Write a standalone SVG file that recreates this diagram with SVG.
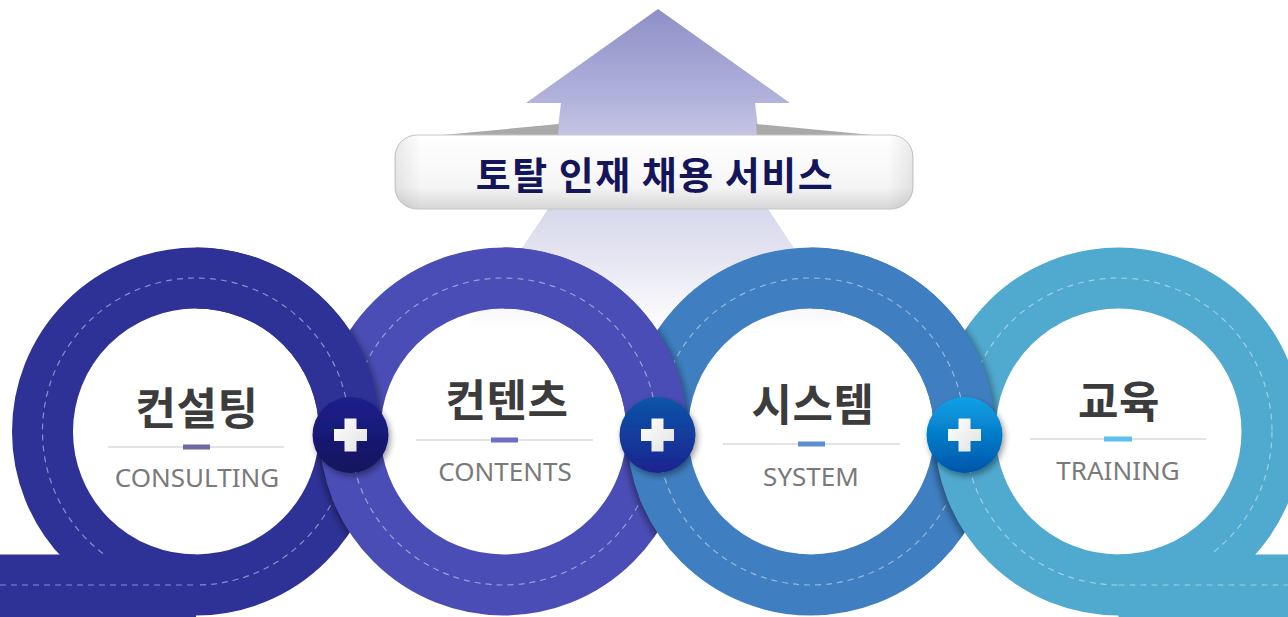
<svg xmlns="http://www.w3.org/2000/svg" width="1288" height="617" viewBox="0 0 1288 617">
<style>
.ring{fill:none;stroke-width:61}
.dash{fill:none;stroke:#ffffff;stroke-opacity:.45;stroke-width:1.2;stroke-dasharray:6 5}
.shd{fill:none;stroke:#000;stroke-width:61;stroke-opacity:.35}
.ko{font-family:"Noto Sans CJK KR","Noto Sans CJK SC",sans-serif;font-weight:700;font-size:44px;letter-spacing:0.5px;fill:#3c3c3c;text-anchor:middle}
.en{font-family:"Noto Sans","Open Sans",sans-serif;font-size:26px;fill:#7a7a7a;text-anchor:middle}
.div{stroke:#dadada;stroke-width:1.5}
.plus{fill:url(#pw)}
</style>
<defs>
<linearGradient id="ag" x1="0" y1="9" x2="0" y2="330" gradientUnits="userSpaceOnUse">
<stop offset="0" stop-color="#8e8fc7"/>
<stop offset="0.29" stop-color="#b3b4dc"/>
<stop offset="0.39" stop-color="#c3c4e3"/>
<stop offset="0.62" stop-color="#d6d7eb"/>
<stop offset="0.78" stop-color="#e6e6f2"/>
<stop offset="1" stop-color="#ffffff"/>
</linearGradient>
<linearGradient id="bg" x1="0" y1="0" x2="0" y2="1">
<stop offset="0" stop-color="#ffffff"/>
<stop offset="0.7" stop-color="#f5f5f5"/>
<stop offset="1" stop-color="#d6d6d6"/>
</linearGradient>
<linearGradient id="bgx" x1="0" y1="0" x2="1" y2="0">
<stop offset="0" stop-color="#000" stop-opacity=".08"/>
<stop offset="0.05" stop-color="#000" stop-opacity="0"/>
<stop offset="0.95" stop-color="#000" stop-opacity="0"/>
<stop offset="1" stop-color="#000" stop-opacity=".08"/>
</linearGradient>
<linearGradient id="b1" x1="0" y1="0" x2="0" y2="1">
<stop offset="0" stop-color="#1d208e"/>
<stop offset="1" stop-color="#12135c"/>
</linearGradient>
<linearGradient id="b2" x1="0" y1="0" x2="0" y2="1">
<stop offset="0" stop-color="#0b55a8"/>
<stop offset="1" stop-color="#1c2390"/>
</linearGradient>
<linearGradient id="b3" x1="0" y1="0" x2="0" y2="1">
<stop offset="0" stop-color="#0aa2e6"/>
<stop offset="1" stop-color="#0155aa"/>
</linearGradient>
<linearGradient id="pw" x1="0" y1="0" x2="1" y2="1">
<stop offset="0" stop-color="#ffffff"/>
<stop offset="1" stop-color="#e2e2e2"/>
</linearGradient>
<filter id="blur" x="-20%" y="-20%" width="140%" height="140%"><feGaussianBlur stdDeviation="3"/></filter>
<filter id="bs" x="-30%" y="-30%" width="160%" height="160%"><feDropShadow dx="2" dy="3" stdDeviation="3" flood-color="#000" flood-opacity=".4"/></filter>
<clipPath id="a1"><path clip-rule="evenodd" d="M12,431.5a184,184 0 1,0 368,0a184,184 0 1,0 -368,0ZM73,431.5a123,123 0 1,0 246,0a123,123 0 1,0 -246,0Z"/></clipPath>
<clipPath id="a2"><path clip-rule="evenodd" d="M319.5,431.5a184,184 0 1,0 368,0a184,184 0 1,0 -368,0ZM380.5,431.5a123,123 0 1,0 246,0a123,123 0 1,0 -246,0Z"/></clipPath>
<clipPath id="a3"><path clip-rule="evenodd" d="M627,431.5a184,184 0 1,0 368,0a184,184 0 1,0 -368,0ZM688,431.5a123,123 0 1,0 246,0a123,123 0 1,0 -246,0Z"/></clipPath>
<clipPath id="a4"><path clip-rule="evenodd" d="M934.5,431.5a184,184 0 1,0 368,0a184,184 0 1,0 -368,0ZM995.5,431.5a123,123 0 1,0 246,0a123,123 0 1,0 -246,0Z"/></clipPath>
<clipPath id="t1"><rect x="196" y="0" width="200" height="431.5"/></clipPath>
<clipPath id="t2"><rect x="503.5" y="0" width="200" height="431.5"/></clipPath>
<clipPath id="t3"><rect x="811" y="0" width="200" height="431.5"/></clipPath>
</defs>
<rect width="1288" height="617" fill="#ffffff"/>

<g id="arrow">
<path d="M658,9 L790,103 L755,103 L768,209 Q795,250 850,330 L466,330 Q521,250 548,209 L561,103 L526,103 Z" fill="url(#ag)"/>
<polygon points="443,135 559,124 558,135" fill="#a9a9a9"/>
<polygon points="756,124 872,135 757,135" fill="#a9a9a9"/>
</g>

<g id="node-consulting">
<circle cx="196" cy="431.5" r="153.5" class="ring" stroke="#2e3296"/>
<circle cx="196" cy="431.5" r="153.5" class="dash"/>
</g>
<g clip-path="url(#a1)"><circle cx="500.5" cy="433.5" r="153.5" class="shd" filter="url(#blur)"/></g>
<g id="node-contents">
<circle cx="503.5" cy="431.5" r="153.5" class="ring" stroke="#4a4db5"/>
<circle cx="503.5" cy="431.5" r="153.5" class="dash"/>
</g>
<g clip-path="url(#a2)"><circle cx="808" cy="433.5" r="153.5" class="shd" filter="url(#blur)"/></g>
<g id="node-system">
<circle cx="811" cy="431.5" r="153.5" class="ring" stroke="#3f7ec0"/>
<circle cx="811" cy="431.5" r="153.5" class="dash"/>
</g>
<g clip-path="url(#a3)"><circle cx="1115.5" cy="433.5" r="153.5" class="shd" filter="url(#blur)"/></g>
<g id="node-training">
<circle cx="1118.5" cy="431.5" r="153.5" class="ring" stroke="#50a9cf"/>
<circle cx="1118.5" cy="431.5" r="153.5" class="dash"/>
</g>

<g id="overlaps">
<g clip-path="url(#a2)"><g clip-path="url(#t1)"><circle cx="199" cy="433.5" r="153.5" class="shd" filter="url(#blur)"/></g></g>
<g clip-path="url(#t1)">
<circle cx="196" cy="431.5" r="153.5" class="ring" stroke="#2e3296"/>
<circle cx="196" cy="431.5" r="153.5" class="dash"/>
</g>
<g clip-path="url(#a3)"><g clip-path="url(#t2)"><circle cx="506.5" cy="433.5" r="153.5" class="shd" filter="url(#blur)"/></g></g>
<g clip-path="url(#t2)">
<circle cx="503.5" cy="431.5" r="153.5" class="ring" stroke="#4a4db5"/>
<circle cx="503.5" cy="431.5" r="153.5" class="dash"/>
</g>
<g clip-path="url(#a4)"><g clip-path="url(#t3)"><circle cx="814" cy="433.5" r="153.5" class="shd" filter="url(#blur)"/></g></g>
<g clip-path="url(#t3)">
<circle cx="811" cy="431.5" r="153.5" class="ring" stroke="#3f7ec0"/>
<circle cx="811" cy="431.5" r="153.5" class="dash"/>
</g>
</g>

<g id="connectors">
<rect x="0" y="554.5" width="196" height="62.5" fill="#2e3296"/>
<line x1="0" y1="585" x2="196" y2="585" class="dash"/>
<rect x="1118.5" y="554.5" width="170" height="62.5" fill="#50a9cf"/>
<line x1="1118.5" y1="585" x2="1288" y2="585" class="dash"/>
</g>

<g id="banner">
<rect x="395" y="135" width="518" height="74" rx="22" fill="url(#bg)" stroke="#c6c6c6" stroke-width="1"/>
<rect x="395" y="135" width="518" height="74" rx="22" fill="url(#bgx)"/>
<text x="655" y="189" font-family="'Noto Sans CJK KR','Noto Sans CJK SC',sans-serif" font-weight="700" font-size="38" letter-spacing="1.5" fill="#15165a" text-anchor="middle">토탈 인재 채용 서비스</text>
</g>

<g id="plus-1" filter="url(#bs)">
<circle cx="350.5" cy="435" r="38" fill="url(#b1)"/>
<path class="plus" d="M344.5,418.5h12v10.5h10.5v12h-10.5v10.5h-12v-10.5h-10.5v-12h10.5Z"/>
</g>
<g id="plus-2" filter="url(#bs)">
<circle cx="657.5" cy="435" r="38" fill="url(#b2)"/>
<path class="plus" d="M651.5,418.5h12v10.5h10.5v12h-10.5v10.5h-12v-10.5h-10.5v-12h10.5Z"/>
</g>
<g id="plus-3" filter="url(#bs)">
<circle cx="964.5" cy="435" r="38" fill="url(#b3)"/>
<path class="plus" d="M958.5,418.5h12v10.5h10.5v12h-10.5v10.5h-12v-10.5h-10.5v-12h10.5Z"/>
</g>

<g id="label-consulting">
<text class="ko" x="197" y="425">컨설팅</text>
<line class="div" x1="108" y1="447" x2="284" y2="447"/>
<rect x="183" y="444.5" width="27" height="5" fill="#6b6ba3"/>
<text class="en" x="197" y="487">CONSULTING</text>
</g>
<g id="label-contents">
<text class="ko" x="507" y="417">컨텐츠</text>
<line class="div" x1="416" y1="440" x2="593" y2="440"/>
<rect x="491" y="437.5" width="27" height="5" fill="#6e6ec4"/>
<text class="en" x="505" y="481">CONTENTS</text>
</g>
<g id="label-system">
<text class="ko" x="813" y="421">시스템</text>
<line class="div" x1="723" y1="444" x2="900" y2="444"/>
<rect x="798" y="441.5" width="27" height="5" fill="#5b8fd0"/>
<text class="en" x="811" y="486">SYSTEM</text>
</g>
<g id="label-training">
<text class="ko" x="1119" y="418">교육</text>
<line class="div" x1="1030" y1="439" x2="1206" y2="439"/>
<rect x="1104" y="436.5" width="28" height="5" fill="#5bc0ee"/>
<text class="en" x="1118" y="480">TRAINING</text>
</g>
</svg>
